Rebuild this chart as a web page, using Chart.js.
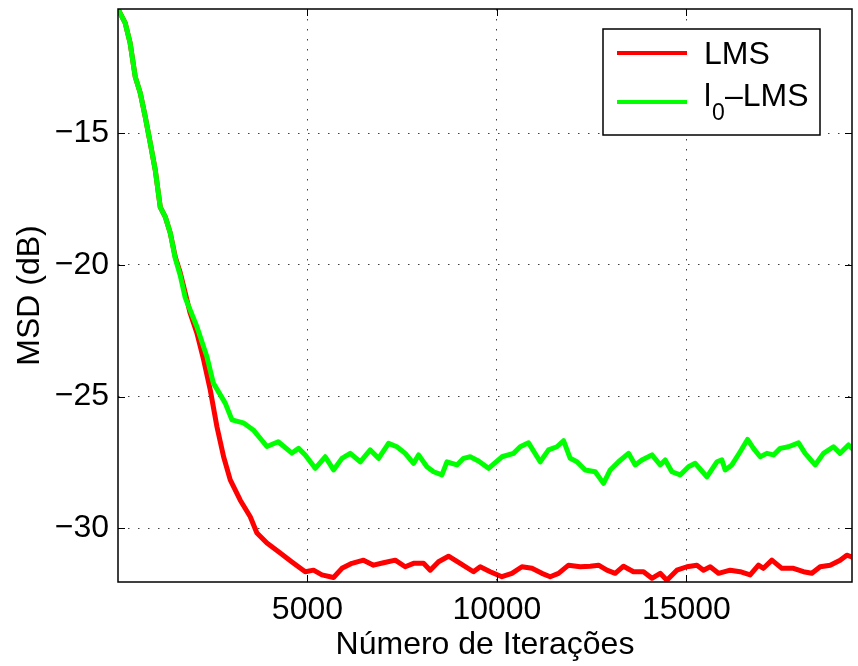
<!DOCTYPE html>
<html>
<head>
<meta charset="utf-8">
<script src="https://cdn.jsdelivr.net/npm/chart.js@4/dist/chart.umd.min.js"></script>
<style>
html,body{margin:0;padding:0;background:#fff;}
#wrap{width:858px;height:666px;position:relative;}
</style>
</head>
<body>
<div id="wrap"><canvas id="c"></canvas></div>
<script>
// ---- data ----
const lmsX = [1,190,320,456,588,720,852,984,1116,1248,1380,1512,1644,1776,1900,2084,2260,2436,2612,2788,2963,3227,3491,3667,3931,4282,4591,4942,5161,5382,5689,5910,6174,6480,6744,7008,7317,7580,7800,8064,8240,8459,8723,9031,9382,9559,9823,10132,10396,10660,10924,11187,11406,11625,11890,12198,12462,12681,12902,13121,13340,13604,13868,14090,14309,14485,14749,15013,15277,15451,15628,15847,16156,16419,16683,16902,17034,17256,17519,17825,18089,18311,18530,18794,19057,19233,19366];
const lmsY = [-10.27,-10.8,-11.56,-12.85,-13.46,-14.37,-15.36,-16.39,-17.8,-18.17,-18.78,-19.7,-20.3,-21.07,-21.8,-22.59,-23.6,-24.75,-26.15,-27.29,-28.17,-28.94,-29.57,-30.19,-30.57,-30.95,-31.29,-31.66,-31.6,-31.78,-31.88,-31.53,-31.34,-31.22,-31.41,-31.32,-31.22,-31.47,-31.34,-31.34,-31.6,-31.28,-31.07,-31.34,-31.66,-31.47,-31.66,-31.85,-31.72,-31.47,-31.53,-31.72,-31.85,-31.72,-31.41,-31.47,-31.45,-31.41,-31.6,-31.72,-31.45,-31.66,-31.66,-31.91,-31.72,-31.98,-31.6,-31.47,-31.41,-31.6,-31.47,-31.72,-31.6,-31.66,-31.78,-31.41,-31.53,-31.22,-31.53,-31.53,-31.66,-31.72,-31.47,-31.41,-31.22,-31.03,-31.1];

const l0X = [1,190,320,456,588,720,852,984,1116,1248,1380,1512,1644,1776,2084,2348,2517,2831,3008,3307,3571,3931,4229,4591,4766,4942,5206,5470,5689,5910,6129,6393,6657,6876,7140,7361,7580,7800,7932,8153,8328,8549,8681,8945,9119,9295,9514,9778,10132,10438,10614,10834,11142,11362,11583,11758,11934,12111,12330,12594,12813,12990,13209,13473,13650,13826,14090,14309,14441,14617,14836,15055,15232,15541,15805,15937,16024,16200,16419,16613,16770,16947,17123,17299,17475,17694,17958,18134,18398,18617,18881,19057,19277,19366];
const l0Y = [-10.27,-10.8,-11.56,-12.85,-13.46,-14.37,-15.36,-16.39,-17.8,-18.17,-18.78,-19.75,-20.4,-21.25,-22.35,-23.49,-24.49,-25.25,-25.89,-26.0,-26.27,-26.9,-26.72,-27.15,-26.97,-27.22,-27.73,-27.29,-27.79,-27.35,-27.16,-27.48,-27.03,-27.35,-26.78,-26.91,-27.16,-27.54,-27.22,-27.67,-27.86,-27.98,-27.48,-27.6,-27.35,-27.29,-27.45,-27.73,-27.29,-27.16,-26.91,-26.76,-27.48,-27.03,-26.91,-26.68,-27.35,-27.48,-27.79,-27.86,-28.3,-27.79,-27.48,-27.16,-27.6,-27.41,-27.22,-27.6,-27.41,-27.86,-27.98,-27.67,-27.54,-28.05,-27.48,-27.41,-27.79,-27.6,-27.1,-26.63,-26.97,-27.29,-27.16,-27.22,-26.97,-26.91,-26.76,-27.16,-27.6,-27.16,-26.91,-27.16,-26.84,-26.97];

const seriesLabels = ['LMS', 'l0\u2013LMS'];
const xTicks = [5000, 10000, 15000];
const yTicks = [-30, -25, -20, -15];
const xRange = [1, 19370];
const yRange = [-32.05, -10.27];
const xTitle = 'N\u00famero de Itera\u00e7\u00f5es';
const yTitle = 'MSD (dB)';

const FONT = '"Liberation Sans", Arial, Helvetica, sans-serif';

function pts(xs, ys){ return xs.map((x,i)=>({x:x, y:ys[i]})); }

const frame = {
  id: 'frame',
  afterDraw(chart){
    const ctx = chart.ctx, a = chart.chartArea;
    const xs = chart.scales.x, ys = chart.scales.y;
    ctx.save();
    ctx.strokeStyle = '#000';
    ctx.lineWidth = 1.5;
    ctx.strokeRect(a.left, a.top, a.right - a.left, a.bottom - a.top);
    ctx.lineWidth = 1;
    const tl = 7;
    ctx.beginPath();
    xTicks.forEach(v=>{
      const px = Math.round(xs.getPixelForValue(v)) + 0.5;
      ctx.moveTo(px, a.bottom); ctx.lineTo(px, a.bottom - tl);
      ctx.moveTo(px, a.top); ctx.lineTo(px, a.top + tl);
    });
    yTicks.forEach(v=>{
      const py = Math.round(ys.getPixelForValue(v)) + 0.5;
      ctx.moveTo(a.left, py); ctx.lineTo(a.left + tl, py);
      ctx.moveTo(a.right, py); ctx.lineTo(a.right - tl, py);
    });
    ctx.stroke();

    // legend box
    const bx = 603, by = 29, bw = 217, bh = 106;
    ctx.fillStyle = '#fff';
    ctx.fillRect(bx, by, bw, bh);
    ctx.lineWidth = 1.5;
    ctx.strokeRect(bx, by, bw, bh);
    const lineRows = [53, 102];
    const textRows = [55, 97];
    chart.data.datasets.forEach((ds, i)=>{
      const y = lineRows[i], ty = textRows[i];
      ctx.strokeStyle = ds.borderColor;
      ctx.lineWidth = 4;
      ctx.beginPath(); ctx.moveTo(617, y); ctx.lineTo(687, y); ctx.stroke();
      ctx.fillStyle = '#000';
      ctx.textBaseline = 'middle';
      ctx.textAlign = 'left';
      ctx.font = '32px ' + FONT;
      const lab = ds.label;
      if (lab.startsWith('l0')) {
        let x = 704;
        ctx.fillText('l', x, ty);
        x += ctx.measureText('l').width + 1;
        ctx.font = '23px ' + FONT;
        ctx.fillText('0', x, ty + 17);
        x += ctx.measureText('0').width;
        ctx.font = '32px ' + FONT;
        ctx.fillText(lab.slice(2), x, ty);
      } else {
        ctx.fillText(lab, 704, ty);
      }
    });
    ctx.restore();
  }
};

new Chart(document.getElementById('c'), {
  type: 'line',
  data: {
    datasets: [
      { label: seriesLabels[0], data: pts(lmsX, lmsY), borderColor: '#ff0000', borderWidth: 5, pointRadius: 0, tension: 0, fill: false, order: 1, borderJoinStyle: 'round', borderCapStyle: 'round' },
      { label: seriesLabels[1], data: pts(l0X, l0Y), borderColor: '#00ff00', borderWidth: 5, pointRadius: 0, tension: 0, fill: false, order: 0, borderJoinStyle: 'round', borderCapStyle: 'round' }
    ]
  },
  options: {
    responsive: true,
    maintainAspectRatio: false,
    animation: false,
    layout: { padding: { top: 9, right: 6, left: 0, bottom: 0 } },
    plugins: { legend: { display: false }, tooltip: { enabled: false } },
    scales: {
      x: {
        type: 'linear', min: xRange[0], max: xRange[1],
        afterBuildTicks(s){ s.ticks = xTicks.map(v=>({value:v})); },
        afterFit(s){ s.height = 84; s.paddingLeft = 0; s.paddingRight = 0; },
        ticks: { color: '#000', font: { family: FONT, size: 32 }, padding: 9, maxRotation: 0, callback: v => String(v) },
        grid: { color: 'rgba(0,0,0,0.75)', lineWidth: 1, drawTicks: false },
        border: { display: false, dash: [1.5, 8.5] },
        title: { display: true, text: xTitle, color: '#000', font: { family: FONT, size: 32 }, padding: { top: 0, bottom: 2 } }
      },
      y: {
        type: 'linear', min: yRange[0], max: yRange[1],
        afterBuildTicks(s){ s.ticks = yTicks.map(v=>({value:v})); },
        afterFit(s){ s.width = 118; s.paddingTop = 0; s.paddingBottom = 0; },
        ticks: { color: '#000', font: { family: FONT, size: 32 }, padding: 9, callback: v => (v < 0 ? '\u2212' + Math.abs(v) : String(v)) },
        grid: { color: 'rgba(0,0,0,0.75)', lineWidth: 1, drawTicks: false },
        border: { display: false, dash: [1.5, 8.5] },
        title: { display: true, text: yTitle, color: '#000', font: { family: FONT, size: 32 }, padding: { top: 11, bottom: 0 } }
      }
    }
  },
  plugins: [frame]
});
</script>
</body>
</html>
